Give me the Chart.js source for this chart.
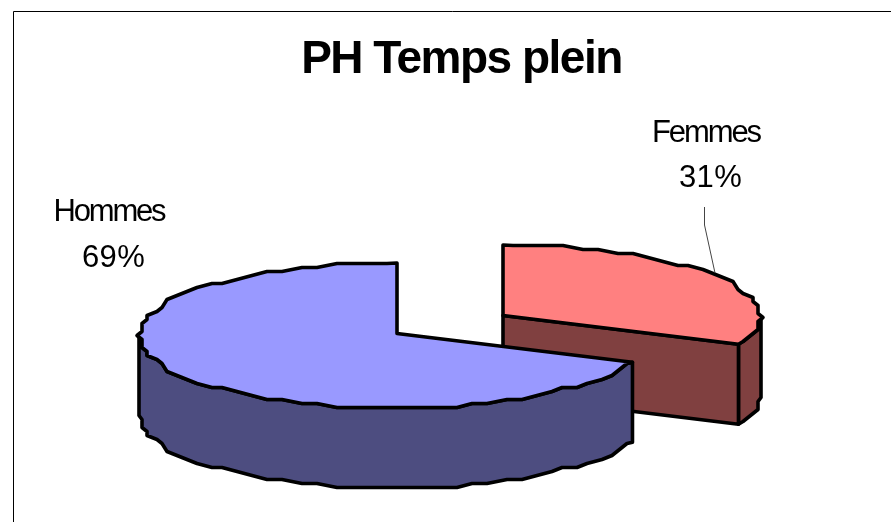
<!DOCTYPE html>
<html lang="fr">
<head>
<meta charset="utf-8">
<title>PH Temps plein</title>
<style>html,body{margin:0;padding:0;background:#fff}canvas{display:block}</style>
<script src="https://cdn.jsdelivr.net/npm/chart.js@4"></script>
</head>
<body>
<canvas id="c" width="891" height="522"></canvas>
<script>
const categories = ['Femmes', 'Hommes'];
const shares = [31, 69];
const chartTitle = 'PH Temps plein';

const topColors = ['#FF8080', '#9999FF'];
const sideColors = ['#804040', '#4D4D80'];

// 3D projection of the pie (drawn from the arc elements' angles)
const RX = 258, RY = 72.5, DEPTH = 80, GRIDX = 5, GRIDY = 4;
const ellipseCentres = [{x: 503, y: 317.5}, {x: 397, y: 335.5}];
const APEX_LIFT = 2;
const STEP = 4 * Math.PI / 180;
const labelPlaces = [
  {x: 706, y1: 142, y2: 187, s1: -2.1, s2: 0.4},
  {x: 109, y1: 221, y2: 266.5, s1: -2.2, s2: 0.4}
];

function rimPoint(c, a) {
  const s = Math.sin(a), co = Math.cos(a);
  const k = (s > 0 && co > 0) ? 1 - 0.05 * s : 1;
  return {x: c.x + RX * co * k, y: c.y + RY * s};
}
function snap(p, c) {
  return {
    x: c.x + Math.round((p.x - c.x) / GRIDX) * GRIDX,
    y: c.y + Math.round((p.y - c.y) / GRIDY) * GRIDY
  };
}
function rim(c, a0, a1) {
  const pts = [rimPoint(c, a0)];
  for (let k = Math.floor(a0 / STEP) + 1; k * STEP < a1 - 1e-6; k++) {
    pts.push(snap(rimPoint(c, k * STEP), c));
  }
  pts.push(rimPoint(c, a1));
  return pts;
}
function poly(ctx, pts, fill) {
  ctx.beginPath();
  pts.forEach((p, i) => i ? ctx.lineTo(p.x, p.y) : ctx.moveTo(p.x, p.y));
  ctx.closePath();
  ctx.fillStyle = fill;
  ctx.fill();
  ctx.stroke();
}
const down = p => ({x: p.x, y: p.y + DEPTH});

const pie3d = {
  id: 'pie3d',
  beforeDraw(chart) {
    const ctx = chart.ctx;
    ctx.save();
    ctx.strokeStyle = '#000';
    ctx.lineWidth = 1;
    ctx.beginPath();
    ctx.moveTo(13.5, 522);
    ctx.lineTo(13.5, 11.5);
    ctx.lineTo(891, 11.5);
    ctx.stroke();
    ctx.restore();
    ctx.letterSpacing = '-1.5px';
  },
  beforeDatasetDraw(chart, args) {
    const ctx = chart.ctx;
    const arcs = chart.getDatasetMeta(args.index).data;
    ctx.save();
    ctx.strokeStyle = '#000';
    ctx.lineWidth = 3.6;
    ctx.lineJoin = 'round';
    arcs.forEach((arc, i) => {
      const c = ellipseCentres[i];
      const apex = {x: c.x, y: c.y - APEX_LIFT};
      const a0 = arc.startAngle, a1 = arc.endAngle;
      // front-facing rim wall: between 0 and PI in canvas angles
      const w0 = Math.max(a0, 0), w1 = Math.min(a1, Math.PI);
      if (w1 > w0) {
        const wall = rim(c, w0, w1);
        poly(ctx, wall.concat(wall.map(down).reverse()), sideColors[i]);
      }
      // radial wall visible when the slice ends on the front-right
      if (Math.sin(a1) > 0 && Math.cos(a1) > 0) {
        const e = rimPoint(c, a1);
        poly(ctx, [apex, e, down(e), down(apex)], sideColors[i]);
      }
      poly(ctx, [apex].concat(rim(c, a0, a1)), topColors[i]);
    });
    ctx.restore();
    return false;
  },
  afterDraw(chart) {
    const ctx = chart.ctx;
    ctx.save();
    ctx.strokeStyle = '#444';
    ctx.lineWidth = 1;
    ctx.beginPath();
    ctx.moveTo(704.5, 207);
    ctx.lineTo(704.5, 225);
    ctx.lineTo(715, 273);
    ctx.stroke();
    ctx.fillStyle = '#000';
    ctx.textAlign = 'center';
    ctx.textBaseline = 'alphabetic';
    ctx.font = '31px "Liberation Sans", Arial, sans-serif';
    categories.forEach((name, i) => {
      const p = labelPlaces[i];
      ctx.letterSpacing = p.s1 + 'px';
      ctx.fillText(name, p.x, p.y1);
      ctx.letterSpacing = p.s2 + 'px';
      ctx.fillText(shares[i] + '%', p.x + 4.5, p.y2);
    });
    ctx.restore();
    ctx.letterSpacing = '0px';
  }
};

new Chart(document.getElementById('c'), {
  type: 'pie',
  data: {
    labels: categories,
    datasets: [{data: shares, backgroundColor: topColors, borderColor: '#000', borderWidth: 3}]
  },
  options: {
    responsive: false,
    animation: false,
    radius: 100,
    layout: {padding: {left: 32, top: 33}},
    plugins: {
      legend: {display: false},
      tooltip: {enabled: false},
      title: {
        display: true,
        text: chartTitle,
        color: '#000',
        padding: 0,
        font: {family: '"Liberation Sans", Arial, sans-serif', size: 46, weight: 'bold'}
      }
    }
  },
  plugins: [pie3d]
});
</script>
</body>
</html>
